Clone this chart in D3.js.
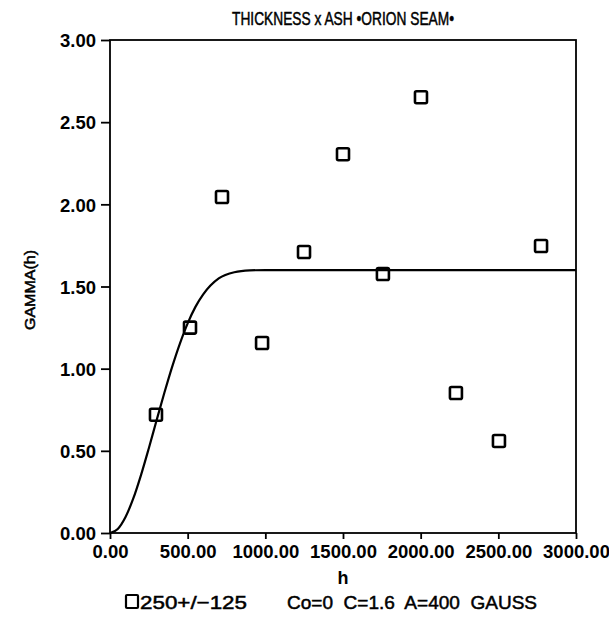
<!DOCTYPE html>
<html><head><meta charset="utf-8">
<script src="https://cdn.jsdelivr.net/npm/d3@7"></script>
<style>
body{margin:0;background:#fff;}
text{font-family:"Liberation Sans",Arial,sans-serif;fill:#000;}
</style></head>
<body><svg id="c" width="609" height="617"></svg>
<script>
// Experimental variogram points (lag h, gamma)
const lagH = [296, 515, 721, 979, 1249, 1500, 1757, 2002, 2227, 2504, 2775];
const gammaVals = [0.72, 1.25, 2.045, 1.156, 1.71, 2.305, 1.576, 2.652, 0.852, 0.56, 1.746];
// Fitted model curve
const curveH = [0, 50, 100, 150, 200, 250, 300, 350, 400, 450, 500, 550, 600, 700, 800, 900, 1000, 3000];
const curveG = [0, 0.025, 0.098, 0.21, 0.354, 0.516, 0.686, 0.853, 1.011, 1.153, 1.276, 1.376, 1.452, 1.549, 1.587, 1.598, 1.6, 1.6];
const xTicks = [0, 500, 1000, 1500, 2000, 2500, 3000];
const yTicks = [0, 0.5, 1.0, 1.5, 2.0, 2.5, 3.0];
const titleText = "THICKNESS x ASH \u2022ORION SEAM\u2022";
const xLabel = "h";
const yLabel = "GAMMA(h)";
const legendSeries = "250+/\u2212125";
const legendModel = "Co=0  C=1.6  A=400  GAUSS";

const svg = d3.select("#c");
const L = 110, R = 576, T = 40, B = 533;
const x = d3.scaleLinear().domain([0, 3000]).range([L, R]);
const y = d3.scaleLinear().domain([0, 3]).range([B, T]);

// frame
svg.append("rect").attr("x", L).attr("y", T).attr("width", R - L).attr("height", B - T)
  .attr("fill", "none").attr("stroke", "#000").attr("stroke-width", 1.8);

const xAxis = svg.append("g").attr("transform", `translate(0,${B})`)
  .call(d3.axisBottom(x).tickValues(xTicks).tickSize(6).tickPadding(3).tickFormat(d3.format(".2f")));
const yAxis = svg.append("g").attr("transform", `translate(${L},0)`)
  .call(d3.axisLeft(y).tickValues(yTicks).tickSize(9).tickPadding(5).tickFormat(d3.format(".2f")));
[xAxis, yAxis].forEach(g => {
  g.select(".domain").remove();
  g.selectAll("line").attr("stroke", "#000").attr("stroke-width", 1.8);
  g.selectAll("text").style("font-family", "'Liberation Sans',Arial,sans-serif")
    .style("font-size", "18.5px").style("font-weight", "bold").attr("fill", "#000");
});
xAxis.selectAll("text").attr("dy", "0.85em");
yAxis.selectAll("text").attr("dy", "0.36em");

// model curve
const line = d3.line().x(d => x(d[0])).y(d => y(d[1])).curve(d3.curveMonotoneX);
svg.append("path").datum(curveH.map((h, i) => [h, curveG[i]]))
  .attr("d", line).attr("fill", "none").attr("stroke", "#000").attr("stroke-width", 2.2);

// points
const s = 12;
svg.selectAll("rect.pt").data(lagH.map((h, i) => [h, gammaVals[i]])).enter().append("rect")
  .attr("class", "pt").attr("x", d => x(d[0]) - s / 2).attr("y", d => y(d[1]) - s / 2)
  .attr("width", s).attr("height", s).attr("rx", 1.5)
  .attr("fill", "none").attr("stroke", "#000").attr("stroke-width", 2.6);

// title and labels
svg.append("text").attr("x", 343).attr("y", 25).attr("text-anchor", "middle")
  .style("font-size", "19px").style("stroke", "#000").style("stroke-width", "0.5")
  .attr("textLength", 222).attr("lengthAdjust", "spacingAndGlyphs").text(titleText);
svg.append("text").attr("x", 343).attr("y", 584).attr("text-anchor", "middle")
  .style("font-size", "18px").style("font-weight", "bold").text(xLabel);
svg.append("text").attr("transform", "translate(35,290) rotate(-90)").attr("text-anchor", "middle")
  .style("font-size", "14px").style("stroke", "#000").style("stroke-width", "0.5")
  .attr("textLength", 80).attr("lengthAdjust", "spacingAndGlyphs").text(yLabel);

// legend
svg.append("rect").attr("x", 126).attr("y", 595).attr("width", 12).attr("height", 13).attr("rx", 1)
  .attr("fill", "none").attr("stroke", "#000").attr("stroke-width", 2.2);
svg.append("text").attr("x", 140).attr("y", 609).style("font-size", "19px")
  .style("stroke", "#000").style("stroke-width", "0.5")
  .attr("textLength", 107).attr("lengthAdjust", "spacingAndGlyphs").text(legendSeries);
svg.append("text").attr("x", 287).attr("y", 609).style("font-size", "19px").style("white-space", "pre")
  .style("stroke", "#000").style("stroke-width", "0.5")
  .attr("textLength", 250).attr("lengthAdjust", "spacingAndGlyphs").text(legendModel);
</script></body></html>
